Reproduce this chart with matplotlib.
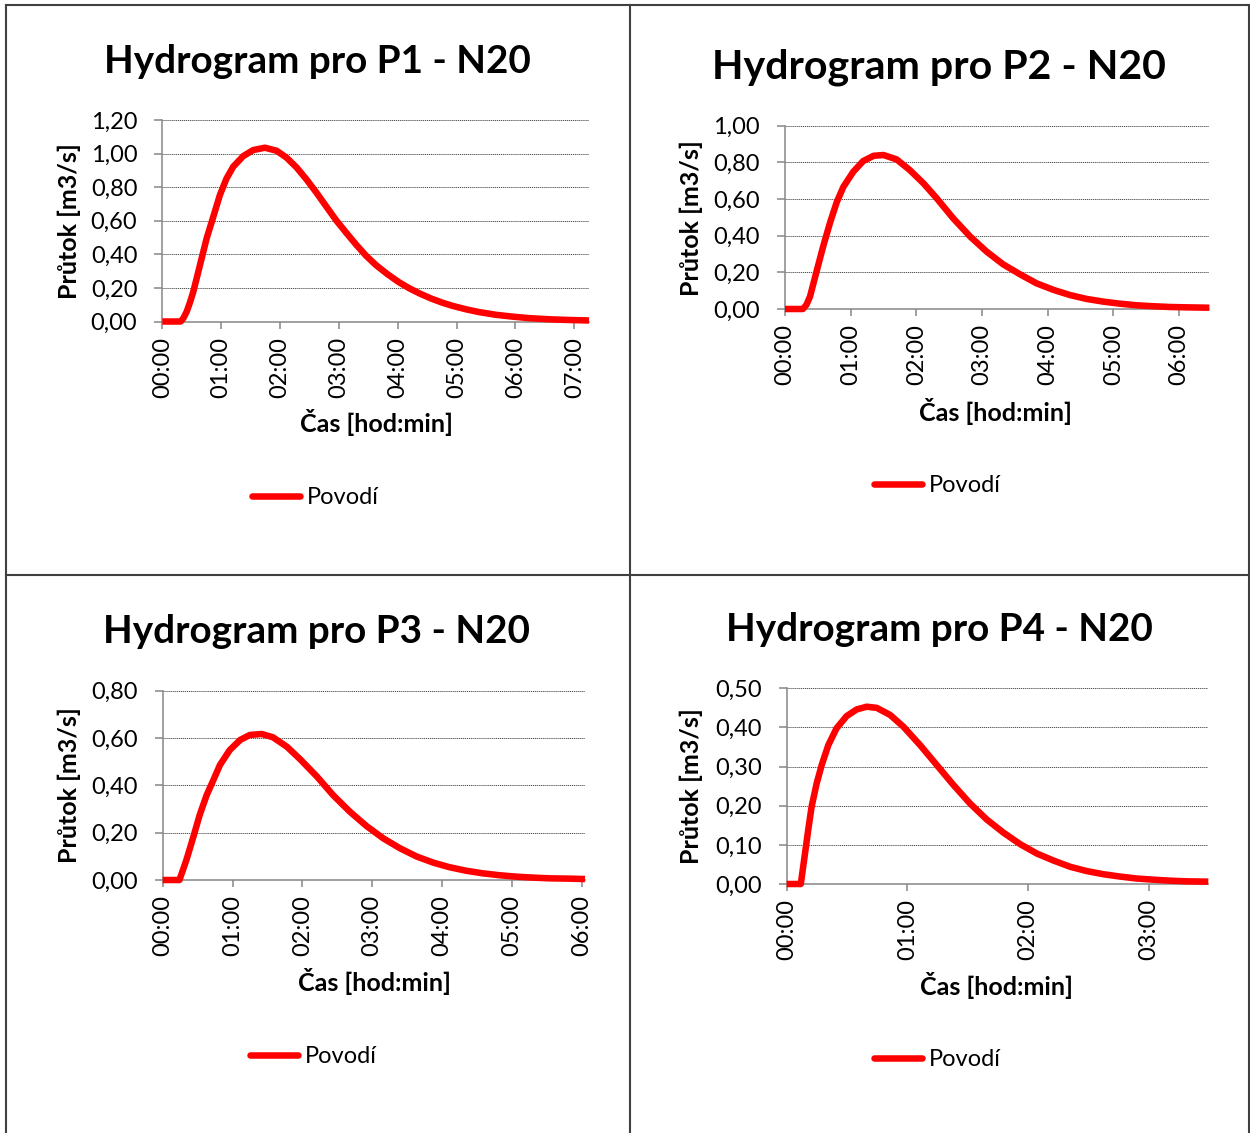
import matplotlib
matplotlib.use('Agg')
import matplotlib.pyplot as plt
from matplotlib.ticker import FuncFormatter, FixedLocator, MultipleLocator
from matplotlib.lines import Line2D

# ---------------- data ----------------
p1_time_min = [0, 18.7, 21.5, 24.8, 28, 31.6, 38.4, 45.2, 52, 58.7, 65.5, 72.3, 82.5, 92.7,
               104.6, 116.5, 126.6, 136.8, 147, 157.2, 167.4, 177.6, 188, 198, 208,
               218, 230, 241, 252, 263, 274, 285, 296, 310, 323, 340, 357, 374, 395,
               415, 435]
p1_flow = [0, 0, 0.02, 0.058, 0.11, 0.177, 0.336, 0.495, 0.624, 0.753, 0.852, 0.922, 0.985,
           1.021, 1.035, 1.017, 0.976, 0.918, 0.846, 0.767, 0.683, 0.600, 0.525, 0.455,
           0.390, 0.335, 0.280, 0.235, 0.197, 0.165, 0.137, 0.113, 0.093, 0.072, 0.056,
           0.040, 0.029, 0.020, 0.013, 0.009, 0.006]

p2_time_min = [0, 16.2, 19.5, 22.8, 28.8, 34.8, 41.4, 47.4, 53.4, 62.4, 71.4, 81, 90, 102,
               114, 126.6, 138.6, 153.6, 169.2, 184.2, 199.2, 214.8, 229.8, 245.4,
               260.4, 275.4, 291, 306, 321.6, 336.6, 351.6, 367.2, 387.6]
p2_flow = [0, 0, 0.022, 0.067, 0.204, 0.34, 0.476, 0.585, 0.667, 0.749, 0.807, 0.836,
           0.84, 0.816, 0.758, 0.685, 0.604, 0.495, 0.395, 0.313, 0.244, 0.189, 0.140,
           0.104, 0.076, 0.055, 0.040, 0.029, 0.020, 0.015, 0.011, 0.009, 0.007]

p3_time_min = [0, 14.4, 20.4, 26.4, 31.8, 37.8, 43.8, 49.2, 57.6, 66.6, 75, 85.2, 94.8,
               106.8, 118.2, 132.6, 146.4, 160.8, 175.2, 189.6, 204, 218.4, 232.8,
               246.6, 261, 275.4, 289.8, 304.2, 318.6, 333, 347.4, 363]
p3_flow = [0, 0, 0.085, 0.183, 0.275, 0.359, 0.425, 0.486, 0.549, 0.592, 0.613, 0.617,
           0.603, 0.563, 0.510, 0.437, 0.359, 0.289, 0.228, 0.176, 0.134, 0.099, 0.073,
           0.054, 0.039, 0.028, 0.020, 0.014, 0.010, 0.007, 0.006, 0.004]

p4_time_min = [0, 7, 9.1, 10.8, 12.4, 14.9, 17.4, 20.7, 24.8, 29.8, 34.8, 39.8, 44.8,
               51.4, 58, 66.3, 74.6, 82.9, 91.1, 99.4, 107.8, 116, 124.3, 132.6, 140.9,
               149.2, 157.4, 165.7, 174, 182.3, 190.6, 198.9, 209.6]
p4_flow = [0, 0, 0.078, 0.142, 0.198, 0.257, 0.304, 0.355, 0.398, 0.429, 0.446, 0.453,
           0.45, 0.432, 0.402, 0.355, 0.304, 0.253, 0.206, 0.165, 0.131, 0.102, 0.078,
           0.060, 0.044, 0.033, 0.025, 0.019, 0.014, 0.011, 0.0085, 0.0068, 0.006]

titles = ["Hydrogram pro P1 - N20", "Hydrogram pro P2 - N20",
          "Hydrogram pro P3 - N20", "Hydrogram pro P4 - N20"]
y_max = [1.2, 1.0, 0.8, 0.5]
y_step = [0.2, 0.2, 0.2, 0.1]
x_tick_hours = [[0, 1, 2, 3, 4, 5, 6, 7], [0, 1, 2, 3, 4, 5, 6],
                [0, 1, 2, 3, 4, 5, 6], [0, 1, 2, 3]]
x_label = "Čas [hod:min]"
y_label = "Průtok [m3/s]"
series_name = "Povodí"

# ---------------- styling / layout ----------------
W, H, DPI = 1250, 1133, 100
plt.rcParams['font.family'] = ['Lato', 'DejaVu Sans']

RED = '#ff0000'
AXC = '#868686'
TICK_FS = 17
LABEL_FS = 18
LW = 4.7

fig = plt.figure(figsize=(W / DPI, H / DPI), dpi=DPI)
fig.patch.set_facecolor('white')


def fx(x):
    return x / W


def fy(y):
    return 1 - y / H


# pixel layout per panel: axes (left, right, top, bottom), title (x, baseline, size),
# xlabel (x, baseline), ylabel (x, y center), legend line start (x, y)
layout = [
    dict(ax=(162.3, 589, 120, 321.5), title=(317, 73, 27.8), xl=(376, 432), yl=(69, 221), lg=(249, 497.6)),
    dict(ax=(785, 1209.3, 125.7, 309), title=(938.5, 78, 29.6), xl=(996, 421), yl=(691, 218), lg=(871, 486)),
    dict(ax=(162.7, 585, 690.7, 880), title=(316, 643, 27.8), xl=(374, 991), yl=(69, 785), lg=(247, 1056.5)),
    dict(ax=(786.7, 1208.3, 688.3, 884), title=(939, 641, 27.8), xl=(997, 995), yl=(691, 786), lg=(871, 1060)),
]

times = [p1_time_min, p2_time_min, p3_time_min, p4_time_min]
flows = [p1_flow, p2_flow, p3_flow, p4_flow]

yfmt = FuncFormatter(lambda v, pos: f"{v:.2f}".replace('.', ','))
xfmt = FuncFormatter(lambda v, pos: f"{int(round(v)):02d}:00")

for i in range(4):
    L = layout[i]
    l, r, t, b = L['ax']
    ax = fig.add_axes([fx(l), fy(b), (r - l) / W, (b - t) / H])
    th = [m / 60.0 for m in times[i]]
    ax.plot(th, flows[i], color=RED, lw=LW, solid_joinstyle='round',
            solid_capstyle='butt', clip_on=False, zorder=5)
    ax.set_xlim(0, th[-1])
    ax.set_ylim(0, y_max[i])
    ax.yaxis.set_major_locator(MultipleLocator(y_step[i]))
    ax.yaxis.set_major_formatter(yfmt)
    ax.xaxis.set_major_locator(FixedLocator(x_tick_hours[i]))
    ax.xaxis.set_major_formatter(xfmt)
    for s in ['top', 'right']:
        ax.spines[s].set_visible(False)
    for s in ['left', 'bottom']:
        ax.spines[s].set_color(AXC)
        ax.spines[s].set_linewidth(1.1)
    ax.tick_params(axis='y', direction='out', length=6, width=1.1, color=AXC,
                   labelsize=TICK_FS, pad=12)
    ax.tick_params(axis='x', direction='out', length=5, width=1.1, color=AXC,
                   labelsize=TICK_FS, pad=6, labelrotation=90)
    ax.yaxis.grid(True, color='#505050', linestyle=(0, (1.2, 0.8)), linewidth=0.7)
    ax.set_axisbelow(True)
    ax.set_facecolor('none')

    tx, tb, ts = L['title']
    fig.text(fx(tx), fy(tb), titles[i], ha='center', va='baseline',
             fontsize=ts, fontweight='bold')
    xx, xb = L['xl']
    fig.text(fx(xx), fy(xb), x_label, ha='center', va='baseline',
             fontsize=LABEL_FS, fontweight='bold')
    yx, yy = L['yl']
    fig.text(fx(yx), fy(yy), y_label, ha='center', va='center', rotation=90,
             fontsize=LABEL_FS, fontweight='bold')
    lx, ly = L['lg']
    handle = Line2D([0], [0], color=RED, lw=LW, solid_capstyle='round')
    ax.legend([handle], [series_name], loc='center left',
              bbox_to_anchor=(fx(lx + 3), fy(ly)), bbox_transform=fig.transFigure,
              frameon=False, borderpad=0, borderaxespad=0, handlelength=2.05,
              handletextpad=0.28, fontsize=TICK_FS)

# table border lines
BC = '#404040'
BW = 1.5
for xv in [6, 629.5, 1249]:
    fig.add_artist(Line2D([fx(xv), fx(xv)], [fy(4.5), 0], color=BC, lw=BW))
for yv in [4.5, 575]:
    fig.add_artist(Line2D([fx(6), fx(1249)], [fy(yv), fy(yv)], color=BC, lw=BW))

fig.savefig('out.png', dpi=DPI, facecolor='white')
